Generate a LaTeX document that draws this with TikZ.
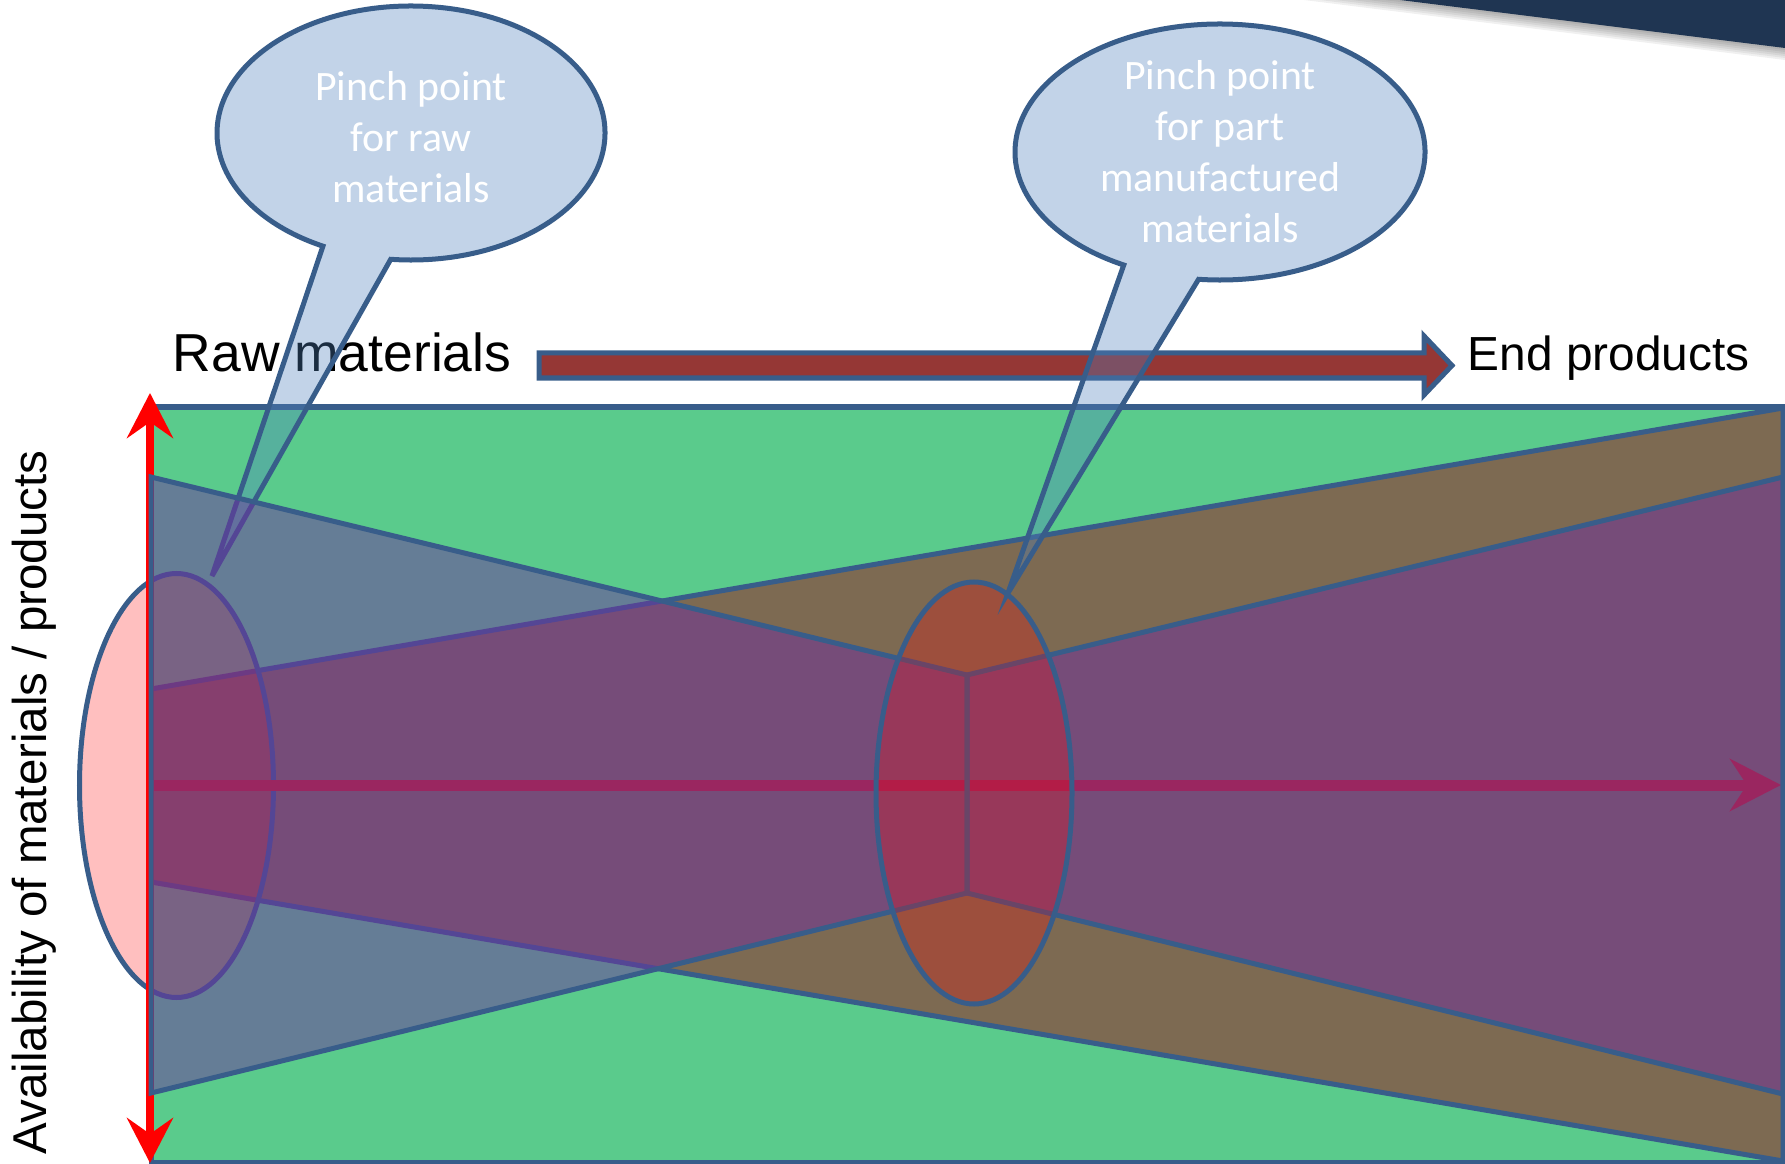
\documentclass[tikz,border=0pt]{standalone}
\usepackage{fontspec}
\setmainfont{Liberation Sans}
\newfontfamily\calibri{Carlito}
\usepackage{xcolor}
\usepackage{tikz}
\usetikzlibrary{arrows.meta}

\definecolor{navy}{HTML}{1F3552}
\definecolor{field}{HTML}{5ACB8C}
\definecolor{edgeblue}{HTML}{385D8A}
\definecolor{wedgered}{HTML}{A00A19}
\definecolor{tiepurple}{HTML}{7030A0}
\definecolor{bubble}{HTML}{4F81BD}
\definecolor{blockred}{HTML}{953735}
\definecolor{flowred}{HTML}{C61C20}

\begin{document}
\begin{tikzpicture}[x=0.01cm, y=-0.01cm,
    outline/.style={draw=edgeblue, line width=0.05cm, line join=miter},
    pinch/.style={outline, fill=red, fill opacity=0.25},
    callout/.style={outline, fill=bubble, fill opacity=0.35},
    bubbletext/.style={text=white, align=center, inner sep=0pt,
        font=\calibri\fontsize{11.9}{14.5}\selectfont}
]
\useasboundingbox (0,0) rectangle (1785,1164);

% corner band with its shadow
\foreach \k in {1,...,6}
    \fill[black, opacity=0.06] (1400-16*\k,0) -- (1785,0) -- (1785,48+2*\k) -- cycle;
\fill[navy] (1400,0) -- (1785,0) -- (1785,48) -- cycle;

\begin{scope}[every node/.style={inner sep=0pt}]
    \node[anchor=base west, font=\fontsize{15.2}{18}\selectfont] (RawMat) at (172,372) {Raw materials};
    \node[anchor=base west, font=\fontsize{13.6}{16}\selectfont] (EndProd) at (1467,371) {End products};
    \node[anchor=base west, rotate=90, font=\fontsize{13.5}{16}\selectfont] (Avail) at (46,1155) {Availability of materials / products};
\end{scope}

% block arrow
\draw[outline, fill=blockred] (539,353) -- (1424,353) -- (1424,336) -- (1452,365.5)
    -- (1424,395) -- (1424,378) -- (539,378) -- cycle;

% field
\draw[outline, fill=field] (151,407) rectangle (1783,1162);

% Layer: widening wedge
\draw[outline, fill=wedgered, fill opacity=0.5] (151,689) -- (1783,408) -- (1783,1161) -- (151,882) -- cycle;

% Layer: raw material pinch
\draw[pinch] (176.5,785.5) ellipse [x radius=97, y radius=212];

\coordinate (ytop) at (150,393);
\coordinate (ybot) at (150,1163);
\draw[red, line width=0.08cm, {Stealth[length=0.45cm, width=0.46cm, inset=0.16cm]}-{Stealth[length=0.45cm, width=0.46cm, inset=0.16cm]}] (ybot) -- (ytop);

\coordinate (tipA) at (212,576);
\draw[callout] (411,133) ++(96:194 and 127) arc [start angle=96, end angle=-243, x radius=194, y radius=127] -- (tipA) -- cycle;

\coordinate (xstart) at (151,785);
\coordinate (xend) at (1781,785);
\draw[flowred, line width=0.11cm, -{Stealth[length=0.51cm, width=0.52cm, inset=0.17cm]}] (xstart) -- (xend);

% Layer: bow tie
\draw[outline, fill=tiepurple, fill opacity=0.5] (151,477) -- (967,675) -- (967,893) -- (151,1093) -- cycle;
\draw[outline, fill=tiepurple, fill opacity=0.5] (967,675) -- (1783,477) -- (1783,1094) -- (967,893) -- cycle;

% Layer: part manufactured pinch
\draw[pinch] (974,793) ellipse [x radius=98, y radius=211];

\coordinate (tipB) at (1008,593);
\draw[callout] (1220,152) ++(96:205 and 128) arc [start angle=96, end angle=-242, x radius=205, y radius=128] -- (tipB) -- cycle;

\node[bubbletext] (PinchRaw) at (411,137) {Pinch point\\for raw\\materials};
\node[bubbletext] (PinchPart) at (1220,152) {Pinch point\\for part\\manufactured\\materials};
\end{tikzpicture}
\end{document}
